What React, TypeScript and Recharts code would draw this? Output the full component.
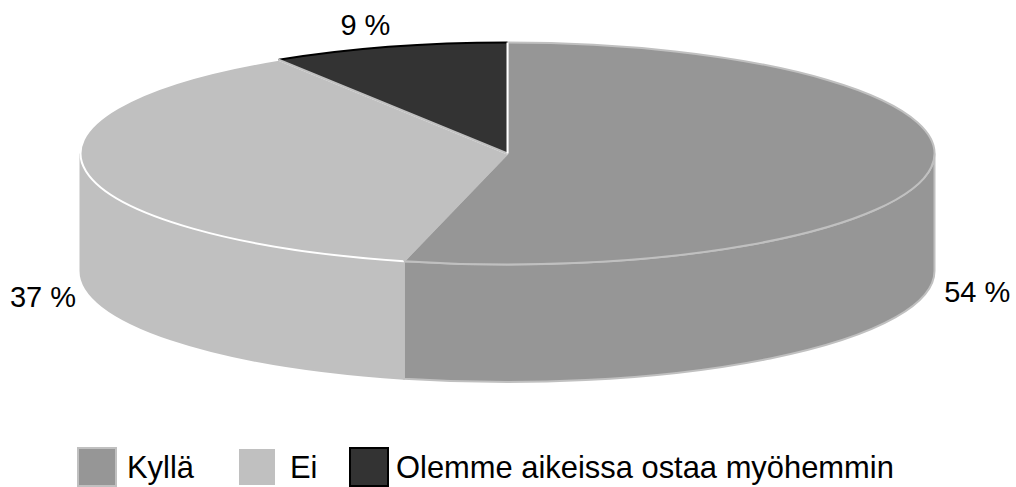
import { PieChart, Pie, Legend } from "recharts"

const categories = ["Kyllä", "Ei", "Olemme aikeissa ostaa myöhemmin"]
const percents = [53.9, 37.1, 9]
const fills = ["#969696", "#c0c0c0", "#333333"]
const rimColors = ["#c0c0c0", "#ffffff", "#000000"]
const sideColors = ["#c0c0c0", "#c0c0c0", "#c0c0c0"]
const startEdgeColors = ["#c0c0c0", "#c0c0c0", "#c0c0c0"]
const endEdgeColors = ["#c0c0c0", "#ffffff", "#ffffff"]

const chartData = categories.map((name, i) => ({ name, value: percents[i], fill: fills[i] }))

// pie is flattened into an ellipse, this is the y/x ratio of the top face
const SQUASH = 111 / 427
const DEPTH = 117.5
const FONT = "'Liberation Sans', Arial, sans-serif"

const labelOffsets = [
  { dx: 46, dy: 125 },
  { dx: -43, dy: 126 },
  { dx: -23, dy: -22 },
]
const legendLefts = [77, 237, 349]
const legendTextLefts = [127, 290, 396]

const rad = (deg: number) => (deg * Math.PI) / 180

function rimPoint(cx: number, cy: number, r: number, angle: number) {
  return { x: cx + r * Math.cos(rad(angle)), y: cy - r * SQUASH * Math.sin(rad(angle)) }
}

function Slice3D(props: any) {
  const { cx, cy, outerRadius: r, startAngle, endAngle, fill, index } = props
  const ry = r * SQUASH
  const a = rimPoint(cx, cy, r, startAngle)
  const b = rimPoint(cx, cy, r, endAngle)
  const large = Math.abs(startAngle - endAngle) > 180 ? 1 : 0

  // angles run clockwise from the top, front wall is only between 0 and -180
  const frontStart = Math.min(startAngle, 0)
  const frontEnd = Math.max(endAngle, -180)
  let wall = null
  if (frontStart > frontEnd) {
    const p = rimPoint(cx, cy, r, frontStart)
    const q = rimPoint(cx, cy, r, frontEnd)
    wall = (
      <g>
        <path
          d={`M${p.x},${p.y} A${r},${ry} 0 0 1 ${q.x},${q.y} L${q.x},${q.y + DEPTH} A${r},${ry} 0 0 0 ${p.x},${p.y + DEPTH} Z`}
          fill={fill}
          stroke={sideColors[index]}
          strokeWidth={2}
        />
      </g>
    )
  }

  return (
    <g>
      {wall}
      <path
        d={`M${cx},${cy} L${a.x},${a.y} A${r},${ry} 0 ${large} 1 ${b.x},${b.y} Z`}
        fill={fill}
        stroke="none"
      />
      <path
        d={`M${a.x},${a.y} A${r},${ry} 0 ${large} 1 ${b.x},${b.y}`}
        fill="none"
        stroke={rimColors[index]}
        strokeWidth={2}
      />
      <line x1={cx} y1={cy} x2={a.x} y2={a.y} stroke={startEdgeColors[index]} strokeWidth={2} />
      <line x1={cx} y1={cy} x2={b.x} y2={b.y} stroke={endEdgeColors[index]} strokeWidth={2} />
    </g>
  )
}

function renderLabel(props: any) {
  const { cx, cy, outerRadius, midAngle, value, index } = props
  const p = rimPoint(cx, cy, outerRadius, midAngle)
  return (
    <text
      x={p.x + labelOffsets[index].dx}
      y={p.y + labelOffsets[index].dy}
      textAnchor="middle"
      dominantBaseline="central"
      fill="#000"
      fontFamily={FONT}
      fontSize={29}
    >
      {`${Math.round(value)} %`}
    </text>
  )
}

function renderLegend(props: any) {
  return (
    <div style={{ position: "relative", width: 1016, height: 487 }}>
      {props.payload.map((entry: any, i: number) => (
        <div key={entry.value}>
          <div
            style={{
              position: "absolute",
              left: legendLefts[i],
              top: 447,
              width: 40,
              height: 40,
              boxSizing: "border-box",
              background: entry.color,
              border: `2.5px solid ${rimColors[i]}`,
            }}
          />
          <span
            style={{
              position: "absolute",
              left: legendTextLefts[i],
              top: 450,
              fontFamily: FONT,
              fontSize: 30.9,
              lineHeight: "36px",
              whiteSpace: "nowrap",
              color: "#000",
            }}
          >
            {entry.value}
          </span>
        </div>
      ))}
    </div>
  )
}

export default function App() {
  return (
    <div style={{ position: "absolute", left: 0, top: 0 }}>
      <PieChart width={1016} height={487} margin={{ top: 0, right: 0, bottom: 0, left: 0 }}>
        <Pie
          data={chartData}
          dataKey="value"
          nameKey="name"
          cx={507.5}
          cy={153.5}
          outerRadius={427}
          startAngle={90}
          endAngle={-270}
          stroke="none"
          shape={Slice3D}
          label={renderLabel}
          labelLine={false}
          isAnimationActive={false}
        />
        <Legend
          content={renderLegend}
          itemSorter={null}
          wrapperStyle={{ left: 0, top: 0, width: 1016, height: 487 }}
        />
      </PieChart>
    </div>
  )
}
